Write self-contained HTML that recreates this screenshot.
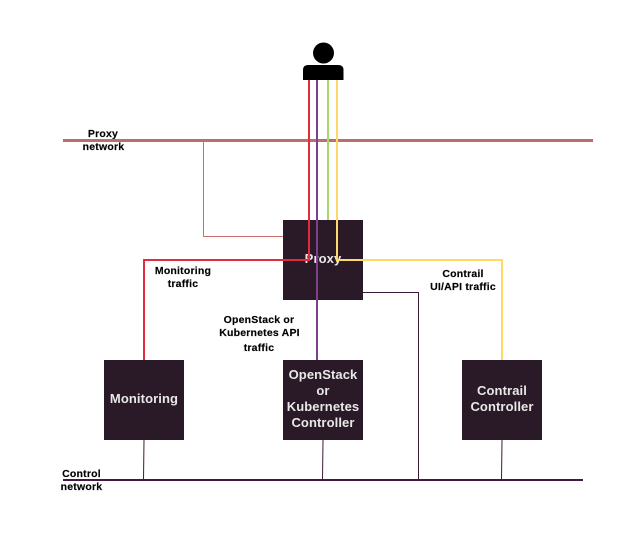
<!DOCTYPE html>
<html>
<head>
<meta charset="utf-8">
<style>
html,body{margin:0;padding:0;background:#fff;}
svg{display:block;}
text{font-family:"Liberation Sans",sans-serif;text-anchor:middle;}
.l{font-size:10.5px;font-weight:bold;fill:#000;stroke:#000;stroke-width:.15px;letter-spacing:.2px;}
.n{font-size:13px;font-weight:bold;fill:#e8e8e8;letter-spacing:.1px;}
</style>
</head>
<body>
<svg width="633" height="540" viewBox="0 0 633 540" xmlns="http://www.w3.org/2000/svg">
<rect width="633" height="540" fill="#fff"/>
<!-- proxy network line -->
<rect x="63" y="139" width="530" height="3" fill="#b9706c"/>
<!-- proxy network to proxy -->
<path d="M203.500 141V236.500H283" fill="none" stroke="#c9706c" stroke-width="1"/>
<!-- nodes -->
<rect x="283" y="220" width="80" height="80" fill="#2a1a28"/>
<rect x="104" y="360" width="80" height="80" fill="#2a1a28"/>
<rect x="283" y="360" width="80" height="80" fill="#2a1a28"/>
<rect x="462" y="360" width="80" height="80" fill="#2a1a28"/>
<!-- node labels -->
<text class="n" x="323" y="263">Proxy</text>
<text class="n" x="144" y="403">Monitoring</text>
<text class="n" x="323" y="379">OpenStack</text>
<text class="n" x="323" y="395">or</text>
<text class="n" x="323" y="411">Kubernetes</text>
<text class="n" x="323" y="427">Controller</text>
<text class="n" x="502" y="395">Contrail</text>
<text class="n" x="502" y="411">Controller</text>
<!-- user icon -->
<circle cx="323.500" cy="53" r="10.500" fill="#000"/>
<path d="M303 80V70Q303 65 308 65H338.500Q343.500 65 343.500 70V80Z" fill="#000"/>
<!-- traffic lines -->
<path d="M328 80V220" fill="none" stroke="#a6d96a" stroke-width="2"/>
<path d="M309 80V260H144V360" fill="none" stroke="#e22b3c" stroke-width="2"/>
<path d="M317 80V360" fill="none" stroke="#7f3f8c" stroke-width="2"/>
<path d="M337 80V260H502V360" fill="none" stroke="#ffd966" stroke-width="2"/>
<!-- control network -->
<rect x="63" y="479" width="520" height="2" fill="#45193f"/>
<path d="M363 292.500H418.500V480" fill="none" stroke="#3f1a38" stroke-width="1"/>
<path d="M144 440L143.500 480" fill="none" stroke="#3f1a38" stroke-width="1"/>
<path d="M323 440L322.500 480" fill="none" stroke="#3f1a38" stroke-width="1"/>
<path d="M502 440L501.500 480" fill="none" stroke="#3f1a38" stroke-width="1"/>
<!-- labels -->
<text class="l" x="103" y="137">Proxy</text>
<text class="l" x="103.500" y="150">network</text>
<text class="l" x="183" y="274">Monitoring</text>
<text class="l" x="183" y="287">traffic</text>
<text class="l" x="259" y="323">OpenStack or</text>
<text class="l" x="259.500" y="336">Kubernetes API</text>
<text class="l" x="259" y="351">traffic</text>
<text class="l" x="463" y="277">Contrail</text>
<text class="l" x="463" y="290">UI/API traffic</text>
<text class="l" x="81.500" y="477">Control</text>
<text class="l" x="81.500" y="490">network</text>
</svg>
</body>
</html>
